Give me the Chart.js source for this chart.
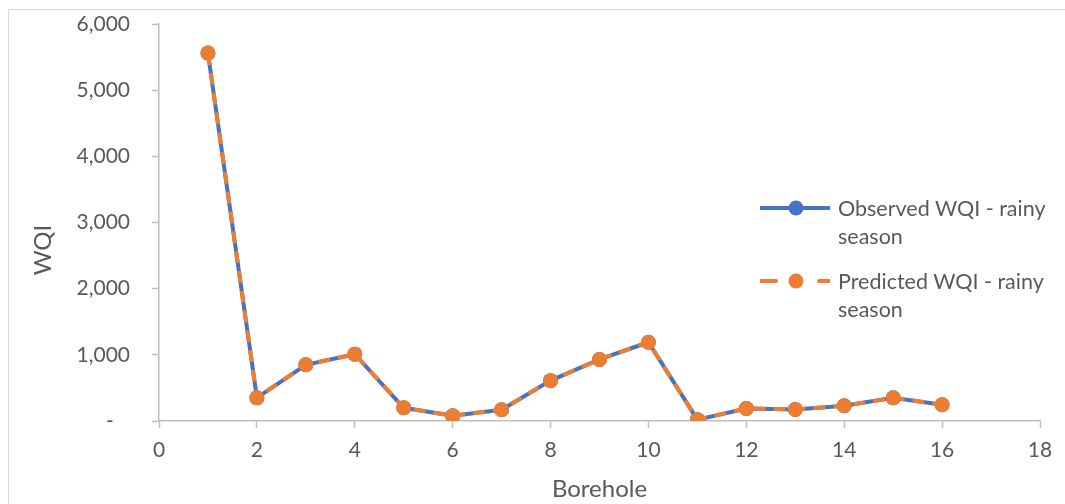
<!DOCTYPE html>
<html>
<head>
<meta charset="utf-8">
<script src="https://cdn.jsdelivr.net/npm/chart.js@4"></script>
<style>
  body { margin: 0; background: #fff; overflow: hidden; }
  #wrap { position: relative; width: 1065px; height: 504px; }
  #frame { position: absolute; left: 8px; top: 9px; width: 1100px; height: 600px; border: 1px solid #d9d9d9; pointer-events: none; }
  #ytitle { position: absolute; left: 41px; top: 250px; transform: translate(-50%, -50%) rotate(-90deg); font: 24px Lato, sans-serif; color: #595959; white-space: nowrap; }
  #legend { position: absolute; left: 760px; top: 194px; font: 21.5px Lato, sans-serif; color: #595959; }
  .item { display: flex; align-items: flex-start; margin-bottom: 17px; }
  .item svg { flex: none; margin-top: 3px; margin-right: 8px; }
  .item span { line-height: 28px; width: 220px; }
</style>
</head>
<body>
<div id="wrap">
  <canvas id="graphCanvas"></canvas>
  <div id="frame"></div>
  <div id="ytitle">WQI</div>
  <div id="legend"></div>
</div>
<script>
// Data
const boreholes = [1, 2, 3, 4, 5, 6, 7, 8, 9, 10, 11, 12, 13, 14, 15, 16];
const observedWQI = [5560, 350, 850, 1010, 200, 80, 170, 610, 930, 1190, 20, 190, 175, 230, 350, 245];
const predictedWQI = [5560, 350, 850, 1010, 200, 80, 170, 610, 930, 1190, 20, 190, 175, 230, 350, 245];
const seriesNames = ['Observed WQI - rainy season', 'Predicted WQI - rainy season'];

const blue = '#4472C4';
const orange = '#ED7D31';
const axisGrey = '#bfbfbf';
const textGrey = '#595959';

const toPoints = (vals) => boreholes.map((b, i) => ({ x: b, y: vals[i] }));

const ctx = document.getElementById('graphCanvas').getContext('2d');

const chart = new Chart(ctx, {
    type: 'line',
    data: {
        datasets: [{
            label: seriesNames[0],
            data: toPoints(observedWQI),
            borderColor: blue,
            backgroundColor: blue,
            borderWidth: 4,
            pointRadius: 7.5,
            pointBorderWidth: 0,
            order: 2,
        }, {
            label: seriesNames[1],
            data: toPoints(predictedWQI),
            borderColor: orange,
            backgroundColor: orange,
            borderWidth: 4,
            borderDash: [12, 8],
            pointRadius: 7.5,
            pointBorderWidth: 0,
            order: 1,
        }],
    },
    options: {
        responsive: true,
        maintainAspectRatio: false,
        animation: false,
        layout: { padding: { top: 24, right: 25, left: 0, bottom: 0 } },
        plugins: { legend: { display: false }, tooltip: { enabled: false } },
        scales: {
            x: {
                type: 'linear',
                min: 0,
                max: 18,
                ticks: { stepSize: 2, color: textGrey, font: { family: 'Lato', size: 21 }, padding: 10, maxRotation: 0 },
                grid: { drawOnChartArea: false, tickLength: 7, tickColor: axisGrey, tickWidth: 1.5 },
                border: { color: axisGrey, width: 1.5 },
                title: { display: true, text: 'Borehole', color: textGrey, font: { family: 'Lato', size: 24 }, padding: { top: 0, bottom: 0 } },
                afterFit: (s) => { s.height = 83; },
            },
            y: {
                min: 0,
                max: 6000,
                ticks: {
                    stepSize: 1000,
                    color: textGrey,
                    font: { family: 'Lato', size: 21 },
                    padding: 22,
                    callback: (v) => v === 0 ? '-   ' : v.toLocaleString('en-US'),
                },
                grid: { drawOnChartArea: false, tickLength: 7, tickColor: axisGrey, tickWidth: 1.5 },
                border: { color: axisGrey, width: 1.5 },
                // fixed width; don't let tick padding push the plot top down
                afterFit: (s) => { s.width = 159; s.paddingTop = 0; s.paddingBottom = 0; },
            },
        },
    },
});

// Legend with wrapped labels, as in the original
const legend = document.getElementById('legend');
chart.data.datasets.forEach((ds) => {
    const item = document.createElement('div');
    item.className = 'item';
    const dash = ds.borderDash ? 'stroke-dasharray="15 43"' : '';
    item.innerHTML =
        '<svg width="70" height="22"><line x1="1" y1="11" x2="70" y2="11" stroke="' + ds.borderColor +
        '" stroke-width="4" ' + dash + ' stroke-linecap="round"/><circle cx="36" cy="11" r="7.5" fill="' +
        ds.backgroundColor + '"/></svg><span>' + ds.label + '</span>';
    legend.appendChild(item);
});
</script>
</body>
</html>
